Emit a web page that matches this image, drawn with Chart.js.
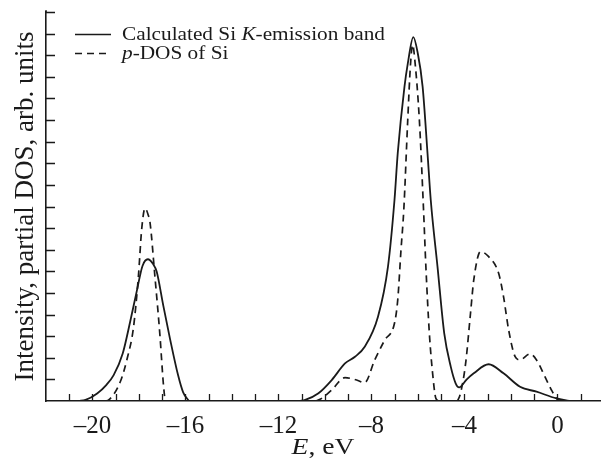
<!DOCTYPE html>
<html><head><meta charset="utf-8">
<script src="https://cdn.jsdelivr.net/npm/chart.js@4"></script>
<style>html,body{margin:0;padding:0;background:#fff}</style>
</head><body>
<canvas id="c" width="610" height="470"></canvas>
<script>
// Energy (eV) and intensity values (null = gap)
const solidX = [-20.6,-20.3,-19.8,-19.4,-19.09,-18.7,-18.38,-18.1,-17.85,-17.62,-17.4,-17.24,-16.96,-16.67,-16.32,-16.1,-15.85,
  -13.5,
  -11.1,-10.85,-10.28,-9.71,-9.14,-8.71,-8.29,-7.72,-7.29,-7.01,-6.87,-6.58,-6.44,-6.2,-6.01,-5.8,-5.59,-5.45,-5.16,-4.87,-4.59,-4.38,-4.23,-3.9,-3.6,-2.96,-2.32,-1.61,-0.9,-0.04,0.5];
const solidY = [0,0.05,0.35,0.75,1.2,2.2,3.67,5.06,6.25,6.56,6.35,5.99,4.44,2.9,1.2,0.4,0,
  null,
  0,0.05,0.36,0.97,1.74,2.05,2.51,3.9,6.22,9.3,11.47,14.55,15.6,16.84,16.1,14.55,11.47,9.3,6.22,3.13,1.59,0.82,0.63,1.0,1.28,1.7,1.28,0.66,0.43,0.12,0];
const dashX = [-19.45,-19.3,-18.8,-18.5,-18.24,-18.03,-17.88,-17.74,-17.6,-17.53,-17.31,-17.1,-16.96,-16.88,
  -13,
  -10.4,-10.14,-9.71,-9.14,-8.64,-8.29,-7.86,-7.43,-7.01,-6.87,-6.73,-6.61,-6.44,-6.32,-6.23,-6.12,-5.94,-5.76,-5.66,-5.51,-5.37,-5.23,-5.1,
  -4.7,
  -4.3,-4.17,-3.95,-3.74,-3.6,-3.31,-2.96,-2.53,-2.32,-2.1,-1.82,-1.61,-1.18,-0.9,-0.54,-0.26,-0.04,0.1];
const dashY = [0,0.05,0.9,2.0,3.38,5.7,8.0,8.92,8.6,8.3,5.7,3.05,0.9,0,
  null,
  0,0.12,0.51,1.08,0.97,0.85,1.9,2.82,3.6,4.68,6.99,8.84,13.0,15.6,16.48,15.6,13.0,8.84,6.22,3.13,1.28,0.12,0,
  null,
  0,0.36,1.74,4.06,5.6,6.91,6.68,5.91,4.83,3.29,2.05,1.9,2.18,1.9,1.13,0.51,0.12,0];
const xTickLabels = [-20,-16,-12,-8,-4,0];
const seriesLabels = ['Calculated Si K-emission band','p-DOS of Si'];
const legendParts = [[['Calculated Si ',false],['K',true],['-emission band',false]],[['p',true],['-DOS of Si',false]]];
const xTitleParts = [['E',true],[', eV',false]];
const yTitle = 'Intensity, partial DOS, arb. units';

const INK = '#1a1a1a';
const FONT = '"Liberation Serif", "Times New Roman", serif';

function pts(xs, ys){ return xs.map((x,i)=>({x:x, y:ys[i]})); }

function richWidth(ctx, parts, size){
  let w=0;
  for(const [t,it] of parts){ ctx.font=(it?'italic ':'')+size+'px '+FONT; w+=ctx.measureText(t).width; }
  return w;
}
function drawRich(ctx, parts, x, y, size, sx){
  ctx.save(); ctx.translate(x,y); ctx.scale(sx,1);
  ctx.fillStyle=INK; ctx.textBaseline='alphabetic'; ctx.textAlign='left';
  let cx=0;
  for(const [t,it] of parts){ ctx.font=(it?'italic ':'')+size+'px '+FONT; ctx.fillText(t,cx,0); cx+=ctx.measureText(t).width; }
  ctx.restore();
}

const decor = {
  id:'decor',
  afterDraw(chart){
    const ctx=chart.ctx, xs=chart.scales.x, ys=chart.scales.y, ca=chart.chartArea;
    ctx.save();
    ctx.strokeStyle=INK; ctx.lineWidth=1.3;
    ctx.beginPath();
    for(let v=Math.ceil(xs.min)+1; v<=Math.floor(xs.max); v++){
      const p=Math.round(xs.getPixelForValue(v))+0.5;
      ctx.moveTo(p,ca.bottom); ctx.lineTo(p,ca.bottom-7);
    }
    for(let v=1; v<=ys.max; v++){
      const p=Math.round(ys.getPixelForValue(v))+0.5;
      ctx.moveTo(ca.left,p); ctx.lineTo(ca.left+9,p);
    }
    // axis stub above top tick
    ctx.moveTo(ca.left,ca.top); ctx.lineTo(ca.left,ca.top-2);
    ctx.stroke();
    // legend
    const rows=[{y:34,dash:[]},{y:53,dash:[7,5]}];
    rows.forEach((r,i)=>{
      ctx.save();
      ctx.setLineDash(r.dash); ctx.lineWidth=1.6; ctx.strokeStyle=INK;
      ctx.beginPath(); ctx.moveTo(75,r.y+0.5); ctx.lineTo(111,r.y+0.5); ctx.stroke();
      ctx.restore();
      drawRich(ctx, legendParts[i], 122, r.y+6, 19, 1.12);
    });
    // x title
    const sz=23, sx=1.2;
    const w=richWidth(ctx,xTitleParts,sz)*sx;
    drawRich(ctx, xTitleParts, (ca.left+ca.right)/2 - w/2, 454, sz, sx);
    ctx.restore();
  }
};

new Chart(document.getElementById('c'), {
  type:'scatter',
  data:{ datasets:[
    { label:seriesLabels[0], data:pts(solidX,solidY), showLine:true, borderColor:INK, borderWidth:1.8,
      pointRadius:0, cubicInterpolationMode:'monotone', spanGaps:false, fill:false },
    { label:seriesLabels[1], data:pts(dashX,dashY), showLine:true, borderColor:INK, borderWidth:1.7, borderDash:[7,5],
      pointRadius:0, cubicInterpolationMode:'monotone', spanGaps:false, fill:false }
  ]},
  options:{
    responsive:false, animation:false,
    layout:{ padding:{ top:12, right:6, left:0, bottom:0 } },
    plugins:{ legend:{display:false}, tooltip:{enabled:false} },
    scales:{
      x:{ type:'linear', min:-22, max:1.83,
        grid:{ display:true, drawOnChartArea:false, drawTicks:false },
        border:{ display:true, color:INK, width:1.6 },
        ticks:{ stepSize:1, autoSkip:false, maxRotation:0, padding:10, color:INK,
          font:{ family:FONT, size:25 },
          callback:(v)=> xTickLabels.includes(v) ? (v<0 ? '\u2013'+(-v) : String(v)) : '' },
        afterFit:(s)=>{ s.height=69; }
      },
      y:{ type:'linear', min:0, max:18,
        grid:{ display:true, drawOnChartArea:false, drawTicks:false },
        border:{ display:true, color:INK, width:1.6 },
        ticks:{ display:false, stepSize:1 },
        title:{ display:true, text:yTitle, color:INK, font:{ family:FONT, size:27, lineHeight:1.2 }, padding:{top:10, bottom:0} },
        afterFit:(s)=>{ s.width=46; }
      }
    }
  },
  plugins:[decor]
});
</script>
</body></html>
